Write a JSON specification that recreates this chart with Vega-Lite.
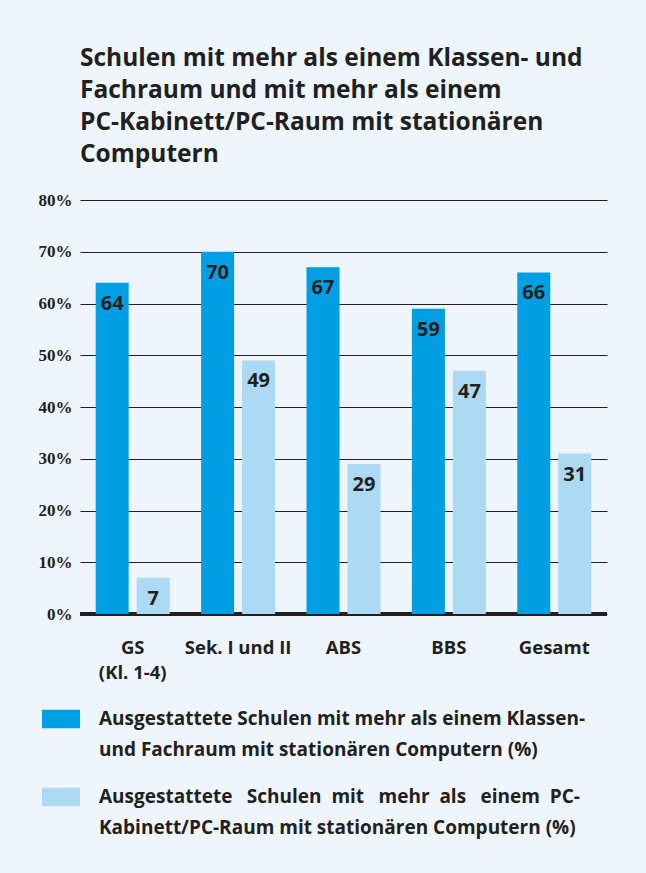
{
  "$schema": "https://vega.github.io/schema/vega-lite/v6.json",
  "width": 527,
  "height": 414,
  "autosize": {"type": "none"},
  "padding": {"left": 80, "top": 200, "right": 39, "bottom": 259},
  "background": "#eef5fc",
  "config": {
    "view": {"stroke": null},
    "style": {"guide-label": {"lineHeight": 31}}
  },
  "title": {
    "text": ["Schulen mit mehr als einem Klassen- und", "Fachraum und mit mehr als einem", "PC-Kabinett/PC-Raum mit stationären", "Computern"],
    "anchor": "start",
    "frame": "group",
    "font": "Open Sans",
    "fontSize": 24.5,
    "fontWeight": "bold",
    "color": "#231f20",
    "lineHeight": 32,
    "offset": 24
  },
  "data": {
    "values": [
      {"Schulart": "GS (Kl. 1-4)", "Serie": "Klassen- und Fachraum", "Wert": 64},
      {"Schulart": "GS (Kl. 1-4)", "Serie": "PC-Kabinett/PC-Raum", "Wert": 7},
      {"Schulart": "Sek. I und II", "Serie": "Klassen- und Fachraum", "Wert": 70},
      {"Schulart": "Sek. I und II", "Serie": "PC-Kabinett/PC-Raum", "Wert": 49},
      {"Schulart": "ABS", "Serie": "Klassen- und Fachraum", "Wert": 67},
      {"Schulart": "ABS", "Serie": "PC-Kabinett/PC-Raum", "Wert": 29},
      {"Schulart": "BBS", "Serie": "Klassen- und Fachraum", "Wert": 59},
      {"Schulart": "BBS", "Serie": "PC-Kabinett/PC-Raum", "Wert": 47},
      {"Schulart": "Gesamt", "Serie": "Klassen- und Fachraum", "Wert": 66},
      {"Schulart": "Gesamt", "Serie": "PC-Kabinett/PC-Raum", "Wert": 31}
    ]
  },
  "layer": [
    {
      "mark": {"type": "rule", "strokeWidth": 4, "color": "#231f20"},
      "encoding": {"y": {"datum": 0, "type": "quantitative"}}
    },
    {
      "mark": {"type": "bar"},
      "encoding": {
        "x": {
          "field": "Schulart", "type": "nominal", "sort": null,
          "scale": {"paddingInner": 0, "paddingOuter": 0},
          "axis": {
            "title": null, "domain": false, "ticks": false, "labelAngle": 0,
            "labelFont": "Open Sans", "labelFontSize": 18.5, "labelFontWeight": "bold",
            "labelColor": "#231f20", "labelPadding": 24, "labelLineHeight": 25,
            "labelExpr": "datum.value == 'GS (Kl. 1-4)' ? ['GS', '(Kl. 1-4)'] : datum.value"
          }
        },
        "xOffset": {"field": "Serie", "type": "nominal", "sort": null, "scale": {"paddingInner": 0.195, "paddingOuter": 0.383}},
        "y": {
          "field": "Wert", "type": "quantitative",
          "scale": {"domain": [0, 80]},
          "axis": {
            "values": [0, 10, 20, 30, 40, 50, 60, 70, 80],
            "labelExpr": "datum.value + '%'",
            "title": null, "domain": false, "ticks": false,
            "grid": true, "gridColor": "#231f20", "gridWidth": 1.2, "gridOpacity": 1,
            "labelFont": "Liberation Serif", "labelFontSize": 17, "labelFontWeight": "bold",
            "labelColor": "#231f20", "labelPadding": 8, "labelLineHeight": 17
          }
        },
        "color": {
          "field": "Serie", "type": "nominal", "sort": null,
          "scale": {"range": ["#009fe3", "#acdaf4"]},
          "legend": {
            "orient": "none", "legendX": -38, "legendY": 500, "title": null, "direction": "vertical",
            "symbolType": "M-1,-0.49H1V0.49H-1Z", "symbolSize": 1444, "symbolStrokeWidth": 0, "symbolOpacity": 1,
            "labelFont": "Open Sans", "labelFontSize": 19, "labelFontWeight": "bold", "labelColor": "#231f20",
            "labelLimit": 600, "labelOffset": 19, "rowPadding": 18,
            "labelExpr": "datum.value == 'Klassen- und Fachraum' ? ['Ausgestattete Schulen mit mehr als einem Klassen-', 'und Fachraum mit stationären Computern (%)'] : ['Ausgestattete \u2002Schulen \u00a0mit \u2002mehr \u00a0als \u2002einem \u00a0PC-', 'Kabinett/PC-Raum mit stationären Computern (%)']"
          }
        }
      }
    },
    {
      "mark": {"type": "text", "font": "Open Sans", "fontSize": 20, "fontWeight": "bold", "color": "#231f20", "baseline": "middle", "dy": 21},
      "encoding": {
        "x": {"field": "Schulart", "type": "nominal", "sort": null},
        "xOffset": {"field": "Serie", "type": "nominal", "sort": null},
        "y": {"field": "Wert", "type": "quantitative"},
        "text": {"field": "Wert", "type": "quantitative"}
      }
    }
  ]
}
